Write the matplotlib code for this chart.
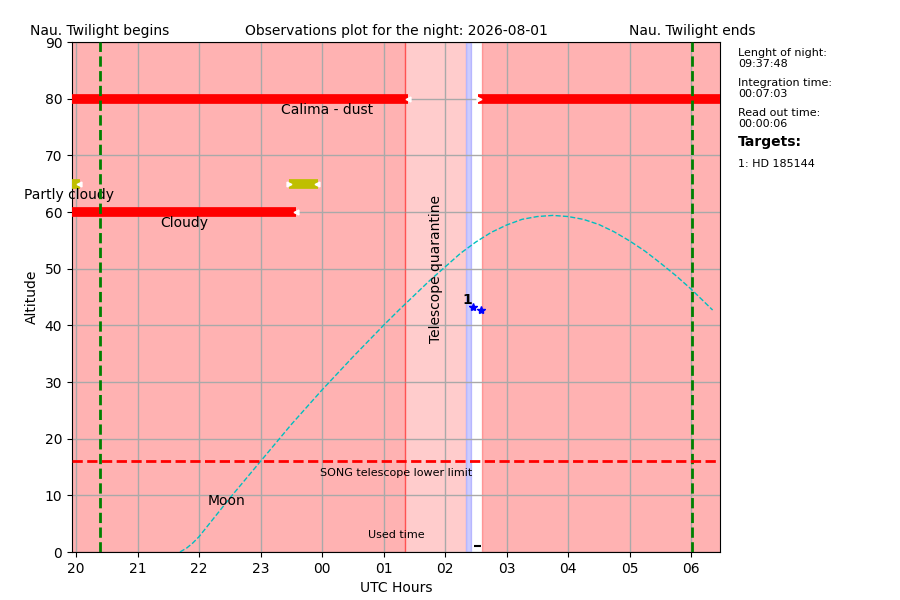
import matplotlib
matplotlib.use("Agg")
import matplotlib.pyplot as plt

# hours after midnight of the first day (24 = 00 UTC)
twilight_begin = 20.39
twilight_end = 30.02
xlim = (19.935, 30.47)

hour_ticks = [20, 21, 22, 23, 24, 25, 26, 27, 28, 29, 30]
hour_labels = ["20", "21", "22", "23", "00", "01", "02", "03", "04", "05", "06"]

# closed periods (red), quarantine, used time
closed_spans = [(19.5, 25.35), (26.60, 31.0)]
quarantine = (25.35, 26.34)
used_span = (26.34, 26.42)

# weather bars: (start, end, altitude, colour, label, label_x, label_y)
weather_bars = [
    (19.5, 25.40, 80, "r", "Calima - dust", 24.08, 78),
    (26.54, 31.0, 80, "r", None, None, None),
    (19.5, 23.58, 60, "r", "Cloudy", 21.76, 58),
    (19.5, 20.06, 65, "y", "Partly cloudy", 19.89, 63),
    (23.46, 23.93, 65, "y", None, None, None),
]

# moon altitude
moon_t = [21.69, 21.8, 21.9, 22.0, 22.5, 23.0, 23.5, 24.0, 24.5, 25.0, 25.25,
          25.5, 25.75, 26.0, 26.25, 26.5, 26.75, 27.0, 27.25, 27.5, 27.75,
          28.0, 28.25, 28.5, 28.75, 29.0, 29.25, 29.5, 29.75, 30.0, 30.35]
moon_alt = [0.0, 0.7, 1.6, 2.7, 9.5, 16.0, 22.5, 28.6, 34.4, 40.0, 42.7,
            45.3, 47.9, 50.3, 52.7, 54.7, 56.4, 57.7, 58.7, 59.2, 59.4,
            59.2, 58.7, 57.8, 56.5, 54.9, 53.1, 51.0, 48.8, 46.4, 42.7]

# target observations
obs_t = [26.46, 26.59]
obs_alt = [43.2, 42.7]
target_names = ["HD 185144"]

song_limit = 16

info = [("Lenght of night:", "09:37:48"),
        ("Integration time:", "00:07:03"),
        ("Read out time:", "00:00:06")]

fig = plt.figure(figsize=(9, 6), dpi=100)
ax = fig.add_axes([0.08, 0.08, 0.72, 0.85])

for a, b in closed_spans:
    ax.axvspan(a, b, color="red", alpha=0.3, lw=1)
ax.axvspan(quarantine[0], quarantine[1], facecolor="red", alpha=0.2, lw=0)
ax.axvline(quarantine[0], color="red", alpha=0.3, lw=1)
ax.axvspan(used_span[0], used_span[1], facecolor="blue", edgecolor="blue", alpha=0.2, lw=1)

ax.grid(True, color="darkgray", lw=1)

for x0, x1, alt, col, lab, lx, ly in weather_bars:
    ax.plot([x0, x1], [alt, alt], color=col, lw=7, solid_capstyle="butt", zorder=3)
    ax.plot([x0 + 0.01], [alt], ls="none", marker=">", color="white", ms=3.5, zorder=4)
    ax.plot([x1 - 0.01], [alt], ls="none", marker="<", color="white", ms=3.5, zorder=4)
    if lab:
        ax.text(lx, ly, lab, ha="center", va="center", fontsize=10)

ax.axvline(twilight_begin, color="g", ls="--", lw=2, zorder=3)
ax.axvline(twilight_end, color="g", ls="--", lw=2, zorder=3)
ax.axhline(song_limit, color="r", ls="--", lw=2, zorder=3)
ax.text(25.2, 14, "SONG telescope lower limit", ha="center", va="center", fontsize=8)

ax.plot(moon_t, moon_alt, "c--", lw=1)
ax.text(22.45, 9, "Moon", ha="center", va="center", fontsize=10)

ax.text(25.86, 50, "Telescope quarantine", rotation=90, ha="center", va="center", fontsize=10)

ax.plot(obs_t, obs_alt, "b*", ms=6, zorder=5)
ax.text(obs_t[0] - 0.02, obs_alt[0] + 1.2, "1", ha="right", va="center",
        fontsize=10, fontweight="bold")

ax.hlines(1, obs_t[0] + 0.01, obs_t[1] - 0.01, color="k", lw=1.5)
ax.text(25.2, 3, "Used time", ha="center", va="center", fontsize=8)

ax.set_xlim(*xlim)
ax.set_ylim(0, 90)
ax.set_xticks(hour_ticks)
ax.set_xticklabels(hour_labels)
ax.set_yticks(range(0, 91, 10))
ax.set_xlabel("UTC Hours")
ax.set_ylabel("Altitude")
ax.set_title("Observations plot for the night: 2026-08-01", fontsize=10, pad=5)
ax.text(twilight_begin, 90.7, "Nau. Twilight begins", ha="center", va="bottom", fontsize=10)
ax.text(twilight_end, 90.7, "Nau. Twilight ends", ha="center", va="bottom", fontsize=10)

y = 0.92
for head, val in info:
    fig.text(0.82, y, head + "\n" + val, fontsize=8, va="top", linespacing=1.1)
    y -= 0.05
fig.text(0.82, 0.775, "Targets:", fontsize=10, fontweight="bold", va="top")
for i, name in enumerate(target_names):
    fig.text(0.82, 0.735 - 0.03 * i, f"{i + 1}: {name}", fontsize=8, va="top")

fig.savefig("out.png", dpi=100)
